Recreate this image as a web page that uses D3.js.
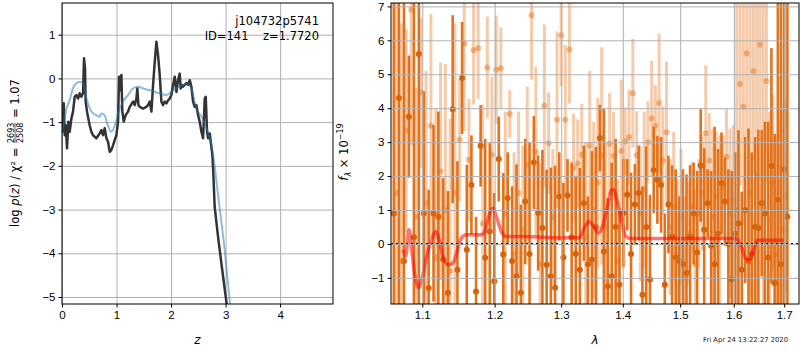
<!DOCTYPE html>
<html>
<head>
<meta charset="utf-8">
<script src="https://cdn.jsdelivr.net/npm/d3@7"></script>
<style>
body { margin: 0; background: #fff; }
svg { font-family: "DejaVu Sans", sans-serif; }
.tick text { font-size: 11.5px; fill: #000; }
.tick line { stroke: #000; }
.grid line { stroke: #b0b0b0; stroke-width: 1; }
.grid path, .grid text { display: none; }
</style>
</head>
<body>
<div id="chart"></div>
<script>
// left panel: log p(z) and smoothed curve
const pzZ = [0.00,0.007,0.031,0.050,0.068,0.092,0.117,0.141,0.172,0.202,0.233,0.263,0.294,0.324,0.355,0.386,0.404,0.422,0.434,0.459,0.483,0.508,0.538,0.569,0.630,0.691,0.722,0.752,0.783,0.814,0.844,0.875,0.905,0.936,0.966,0.997,1.028,1.046,1.070,1.089,1.107,1.132,1.168,1.211,1.242,1.303,1.333,1.364,1.382,1.401,1.425,1.486,1.547,1.578,1.609,1.640,1.670,1.701,1.731,1.762,1.792,1.823,1.854,1.884,1.915,1.945,1.976,2.006,2.037,2.067,2.098,2.128,2.159,2.177,2.202,2.220,2.251,2.281,2.312,2.343,2.373,2.404,2.434,2.465,2.495,2.526,2.557,2.587,2.618,2.636,2.660,2.679,2.710,2.728,2.758,2.775,2.800,2.860,2.930,3.020,3.040];
const pzLog = [-1.15,-1.22,-0.57,-1.30,-1.07,-1.60,-0.99,-1.22,-0.92,-0.76,-0.42,-0.38,-0.46,-0.34,-0.42,-0.34,0.46,0.23,-0.53,-0.76,-0.92,-1.07,-1.22,-1.30,-1.37,-1.26,-1.18,-1.30,-1.14,-1.37,-1.45,-1.68,-1.64,-1.53,-1.41,-1.30,-0.99,0.04,-0.27,0.08,-0.76,-0.99,-0.84,-0.76,-0.65,-0.53,-0.61,-0.46,-0.23,-0.61,-0.65,-0.69,-0.65,-0.61,-0.53,-0.76,-0.15,0.38,0.84,0.53,0.08,-0.53,-0.61,-0.53,-0.57,-0.50,-0.46,-0.38,-0.15,0.04,-0.31,-0.04,0.11,-0.23,-0.15,-0.19,-0.15,-0.11,-0.15,-0.04,-0.19,-0.53,-0.65,-0.61,-0.84,-0.99,-1.22,-1.37,-0.46,-0.42,-1.22,-1.37,-1.26,-1.45,-1.76,-2.17,-2.94,-3.60,-4.30,-5.16,-5.40];

const smoothZ = [0.00,0.02,0.05,0.08,0.14,0.20,0.26,0.32,0.39,0.45,0.51,0.57,0.63,0.69,0.72,0.78,0.84,0.905,0.97,1.03,1.12,1.21,1.30,1.39,1.49,1.61,1.79,1.915,2.04,2.22,2.31,2.37,2.465,2.56,2.65,2.74,2.80,2.83,2.90,2.99,3.08,3.10];
const smoothLog = [-1.25,-1.10,-0.90,-0.70,-0.50,-0.23,-0.11,-0.08,-0.11,-0.46,-0.69,-0.80,-0.84,-0.88,-0.80,-0.84,-1.07,-1.22,-1.07,-0.80,-0.53,-0.38,-0.23,-0.19,-0.23,-0.27,-0.34,-0.38,-0.27,-0.15,-0.13,-0.23,-0.69,-0.88,-1.14,-1.52,-2.00,-2.33,-3.05,-4.00,-5.16,-5.40];

const zTicks = [0, 1, 2, 3, 4];
const logTicks = [-5, -4, -3, -2, -1, 0, 1];

// right panel: 1D spectrum (two exposures) and line model
const darkWave = [1.063,1.0695,1.076,1.0825,1.089,1.0955,1.102,1.1085,1.115,1.1215,1.128,1.1345,1.141,1.1475,1.154,1.1605,1.167,1.1735,1.180,1.1865,1.193,1.1995,1.206,1.2125,1.219,1.2255,1.232,1.2385,1.245,1.2515,1.258,1.2645,1.271,1.2775,1.284,1.2905,1.297,1.3035,1.310,1.3165,1.323,1.3295,1.336,1.3425,1.349,1.3555,1.362,1.3685,1.375,1.3815,1.388,1.3945,1.401,1.4075,1.414,1.4205,1.427,1.4335,1.440,1.4465,1.453,1.4595,1.466,1.4725,1.479,1.4855,1.492,1.4985,1.505,1.5115,1.518,1.5245,1.531,1.5375,1.544,1.5505,1.557,1.5635,1.570,1.5765,1.583,1.5895,1.596,1.6025,1.609,1.6155,1.622,1.6285,1.635,1.6415,1.648,1.6545,1.661,1.6675,1.674,1.6805,1.687,1.6935,1.700,1.7065];
const darkFlux = [0.9,4.3,-0.5,3.75,0.2,5.6,0.9,-1.3,0.9,0.8,-0.46,-1.44,3.97,-0.76,4.89,-0.17,1.74,-1.4,2.89,-0.41,0.37,-1.1,2.5,-0.31,1.35,-0.5,-0.95,-1.44,1.25,-0.3,2.4,0.91,0.47,-0.61,-0.95,-1.29,1.4,-0.4,1.43,0.2,-0.29,-0.76,1.2,-0.6,-0.46,0.5,3.12,-0.22,-1.25,-0.95,0.5,-1.2,0.91,1.45,-0.3,1.16,1.5,-1.5,0.5,-1.05,2.18,1.89,1.74,-1.2,1.16,0.22,-0.4,-0.5,-0.6,-0.85,0.22,0.9,-0.25,2.31,0.42,1.2,-0.05,-0.6,0.3,1.79,1.25,0.0,-1.05,0.3,0.6,-0.76,1.0,-0.5,-0.3,0.5,0.47,1.2,0.9,-0.4,2.3,-1.15,1.3,-0.6,2.2,0.8];
const darkErr = [9,9,8,1.8,8,9,3.6,2.9,2.6,3.1,2.4,3.0,2.77,3.2,1.65,2.5,1.46,2.2,1.2,3.5,2.6,2.6,1.25,2.4,1.35,2.2,3.3,2.6,1.85,3.3,1.37,1.7,2.3,2.8,3.2,3.6,1.3,2.2,1.07,2.2,2.3,3.0,1.7,2.0,3.2,2.36,0.98,4.2,2.6,3.35,2.6,2.2,1.6,1.05,2.4,1.2,1.4,3.2,2.38,2.5,1.27,1.3,1.41,2.1,1.44,2.1,2.6,1.9,2.8,2.9,2.1,1.5,2.4,1.66,2.4,1.0,2.2,4.05,2.5,1.5,1.3,2.2,3.2,2.4,2.75,2.3,2.15,3.9,3.0,2.65,2.9,2.16,2.7,4.0,3.47,4.4,9,9,9,9];

const lightWave = [1.066,1.0725,1.079,1.0855,1.092,1.0985,1.105,1.1115,1.118,1.1245,1.131,1.1375,1.144,1.1505,1.157,1.1635,1.170,1.1765,1.183,1.1895,1.196,1.2025,1.209,1.2155,1.222,1.2285,1.235,1.2415,1.248,1.2545,1.261,1.2675,1.274,1.2805,1.287,1.2935,1.300,1.3065,1.313,1.3195,1.326,1.3325,1.339,1.3455,1.352,1.3585,1.365,1.3715,1.378,1.3845,1.391,1.3975,1.404,1.4105,1.417,1.4235,1.430,1.4365,1.443,1.4495,1.456,1.4625,1.469,1.4755,1.482,1.4885,1.495,1.5015,1.508,1.5145,1.521,1.5275,1.534,1.5405,1.547,1.5535,1.560,1.5665,1.573,1.5795,1.586,1.5925,1.599,1.6055,1.612,1.6185,1.625,1.6315,1.638,1.6445,1.651,1.6575,1.664,1.6705,1.677,1.6835,1.690,1.6965,1.703];
const lightFlux = [1.5,-0.5,3.34,6.9,0.8,4.46,1.2,3.48,-0.4,2.14,1.0,-0.8,1.5,3.07,5.91,2.48,5.71,5.77,0.6,5.2,2.63,5.13,5.18,0.9,3.83,-0.3,1.5,0.4,2.33,6.74,2.72,-0.6,4.07,2.97,0.8,3.66,6.15,3.66,5.73,2.24,2.37,2.63,0.2,2.9,1.0,1.8,2.6,0.5,2.95,2.6,-0.5,2.74,3.02,3.15,4.44,2.61,0.9,1.6,3.0,3.7,3.48,4.15,2.46,3.29,0.5,1.1,-0.4,0.8,-1.0,0.3,1.1,-0.6,0.9,1.5,3.26,2.46,0.8,1.4,0.2,1.7,2.57,0.9,1.3,1.0,4.71,4.04,5.62,1.5,5.09,2.0,5.88,1.2,4.8,0.7,1.8,-0.3,1.0,0.4,1.4];
const lightErr = [8,7,3.0,4,3.8,2.2,3.9,3.3,4.4,3.2,4.3,4.5,5.0,1.8,2.6,1.8,1.6,1.5,3.5,1.5,2.3,1.6,1.2,3.0,0.7,3.0,2.4,2.5,2.3,1.9,2.5,3.0,2.4,1.5,2.0,2.6,1.5,2.2,1.6,1.6,1.3,1.5,2.8,2.2,2.6,2.5,3.2,2.5,1.5,1.3,2.4,2.1,1.0,1.4,1.6,1.3,2.0,2.3,1.2,1.7,1.2,2.05,1.6,2.08,2.0,2.2,2.3,2.0,2.4,1.5,1.3,2.2,1.6,1.7,2.0,1.4,2.6,1.9,3.0,1.5,1.4,2.5,2.2,7,3,3.5,2.5,6,2.6,6,2.5,6.5,3,3.2,2.6,3.5,3,3.5,2.8];

const modelWave = [1.0753,1.0783,1.0826,1.0861,1.0904,1.0947,1.0992,1.1058,1.1125,1.1178,1.1236,1.1280,1.1348,1.1416,1.1463,1.1532,1.1601,1.1811,1.1858,1.1929,1.1976,1.2025,1.2097,1.2170,1.2440,1.2972,1.3287,1.3367,1.3436,1.3500,1.3597,1.3663,1.3745,1.3817,1.3850,1.3893,1.3966,1.4051,1.4136,1.6029,1.6145,1.6223,1.6301,1.6385,1.6464,1.6985];
const modelFlux = [-0.17,-0.36,0.42,-0.17,-0.95,-1.29,-1.05,-0.36,0.13,0.37,0.03,-0.41,-0.61,-0.56,-0.27,0.18,0.27,0.27,0.37,0.91,1.06,0.81,0.37,0.22,0.22,0.18,0.18,0.47,0.66,0.57,0.32,0.52,1.11,1.6,1.6,1.35,0.81,0.22,0.16,0.16,-0.07,-0.41,-0.46,-0.17,0.11,0.11];

const waveTicks = [1.1, 1.2, 1.3, 1.4, 1.5, 1.6, 1.7];
const fluxTicks = [-1, 0, 1, 2, 3, 4, 5, 6, 7];

const width = 800;
const height = 350;
const L = {x0: 62, x1: 333, y0: 3, y1: 304};
const R = {x0: 391, x1: 799, y0: 3, y1: 304};

let svg = d3.select('#chart')
    .append('svg')
    .attr('width', width)
    .attr('height', height);

let defs = svg.append('defs');
defs.append('clipPath').attr('id', 'clipL').append('rect')
    .attr('x', L.x0).attr('y', L.y0).attr('width', L.x1 - L.x0).attr('height', L.y1 - L.y0);
defs.append('clipPath').attr('id', 'clipR').append('rect')
    .attr('x', R.x0).attr('y', R.y0).attr('width', R.x1 - R.x0).attr('height', R.y1 - R.y0);

// ---------- left panel ----------
let lx = d3.scaleLinear().domain([0, 4.97]).range([L.x0, L.x1]);
let ly = d3.scaleLinear().domain([-5.16, 1.725]).range([L.y1, L.y0]);

svg.append('g').attr('class', 'grid')
    .attr('transform', `translate(0, ${L.y1})`)
    .call(d3.axisBottom(lx).tickValues(zTicks).tickSize(-(L.y1 - L.y0)));
svg.append('g').attr('class', 'grid')
    .attr('transform', `translate(${L.x0}, 0)`)
    .call(d3.axisLeft(ly).tickValues(logTicks).tickSize(-(L.x1 - L.x0)));

let plotL = svg.append('g').attr('clip-path', 'url(#clipL)');

let pzLine = d3.line().x(d => lx(d[0])).y(d => ly(d[1]));

plotL.append('path')
    .datum(pzZ.map((z, i) => [z, pzLog[i]]))
    .attr('d', pzLine)
    .style('fill', 'none')
    .style('stroke', '#333')
    .style('stroke-width', 2.5)
    .style('stroke-linejoin', 'round');

plotL.append('path')
    .datum(smoothZ.map((z, i) => [z, smoothLog[i]]))
    .attr('d', pzLine.curve(d3.curveMonotoneX))
    .style('fill', 'none')
    .style('stroke', '#1f77b4')
    .style('stroke-opacity', 0.5)
    .style('stroke-width', 2);

let axL = svg.append('g')
    .attr('transform', `translate(0, ${L.y1})`)
    .call(d3.axisBottom(lx).tickValues(zTicks).tickSize(3.5).tickPadding(3).tickFormat(d3.format('d')));
let ayL = svg.append('g')
    .attr('transform', `translate(${L.x0}, 0)`)
    .call(d3.axisLeft(ly).tickValues(logTicks).tickSize(3.5).tickPadding(3).tickFormat(d3.format('d')));
axL.select('.domain').remove();
ayL.select('.domain').remove();

svg.append('rect')
    .attr('x', L.x0).attr('y', L.y0)
    .attr('width', L.x1 - L.x0).attr('height', L.y1 - L.y0)
    .style('fill', 'none').style('stroke', '#000').style('stroke-width', 1);

svg.append('text').text('j104732p5741')
    .attr('x', 319).attr('y', 25)
    .style('text-anchor', 'end').style('font-size', '11.5px');
svg.append('text').text('ID=141    z=1.7720')
    .attr('x', 319).attr('y', 40)
    .style('text-anchor', 'end').style('font-size', '11.5px')
    .style('white-space', 'pre');

svg.append('text').text('z')
    .attr('x', (L.x0 + L.x1) / 2).attr('y', 344)
    .style('text-anchor', 'middle').style('font-size', '12px').style('font-style', 'italic');

// y label with stacked fraction
let ylab = svg.append('g');
let part1 = ylab.append('text').style('font-size', '11.5px').style('white-space', 'pre');
part1.append('tspan').text('log ');
part1.append('tspan').style('font-style', 'italic').text('p');
part1.append('tspan').text('(');
part1.append('tspan').style('font-style', 'italic').text('z');
part1.append('tspan').text(') / χ² = ');
let w1 = part1.node().getComputedTextLength();
let frac = ylab.append('g').attr('transform', `translate(${w1 + 1}, 0)`);
let num = frac.append('text').text('2693').attr('y', -5.5).style('font-size', '8px');
frac.append('text').text('2508').attr('y', 3.5).style('font-size', '8px');
let wf = num.node().getComputedTextLength();
frac.append('line').attr('x1', 0).attr('x2', wf).attr('y1', -4).attr('y2', -4)
    .style('stroke', '#000').style('stroke-width', 0.6);
let part3 = ylab.append('text').text(' = 1.07')
    .attr('x', w1 + wf + 2)
    .style('font-size', '11.5px').style('white-space', 'pre');
let total = w1 + wf + 2 + part3.node().getComputedTextLength();
ylab.attr('transform', `translate(19, ${153 + total / 2}) rotate(-90)`);

// ---------- right panel ----------
let rx = d3.scaleLog().domain([1.0594, 1.7305]).range([R.x0, R.x1]);
let ry = d3.scaleLinear().domain([-1.77, 7.1]).range([R.y1, R.y0]);

let plotR = svg.append('g').attr('clip-path', 'url(#clipR)');

let dark = darkWave.map((w, i) => ({w: w, f: darkFlux[i], e: darkErr[i]}));
let light = lightWave.map((w, i) => ({w: w, f: lightFlux[i], e: lightErr[i]}));

plotR.selectAll('.darkbar').data(dark).enter().append('line')
    .attr('class', 'darkbar')
    .attr('x1', d => rx(d.w)).attr('x2', d => rx(d.w))
    .attr('y1', d => ry(d.f - d.e)).attr('y2', d => ry(d.f + d.e))
    .style('stroke', '#e2731e').style('stroke-width', 2.6);
plotR.selectAll('.darkdot').data(dark).enter().append('circle')
    .attr('class', 'darkdot')
    .attr('cx', d => rx(d.w)).attr('cy', d => ry(d.f)).attr('r', 3)
    .style('fill', '#d5620c');

plotR.selectAll('.lightbar').data(light).enter().append('line')
    .attr('class', 'lightbar')
    .attr('x1', d => rx(d.w)).attr('x2', d => rx(d.w))
    .attr('y1', d => ry(d.f - d.e)).attr('y2', d => ry(d.f + d.e))
    .style('stroke', '#e46e14').style('stroke-opacity', 0.36).style('stroke-width', 3);
plotR.selectAll('.lightdot').data(light).enter().append('circle')
    .attr('class', 'lightdot')
    .attr('cx', d => rx(d.w)).attr('cy', d => ry(d.f)).attr('r', 3)
    .style('fill', '#e46e14').style('fill-opacity', 0.45);

svg.append('g').attr('class', 'grid')
    .attr('transform', `translate(0, ${R.y1})`)
    .call(d3.axisBottom(rx).tickValues(waveTicks).tickSize(-(R.y1 - R.y0)));
svg.append('g').attr('class', 'grid')
    .attr('transform', `translate(${R.x0}, 0)`)
    .call(d3.axisLeft(ry).tickValues(fluxTicks).tickSize(-(R.x1 - R.x0)));

plotR.append('path')
    .datum(modelWave.map((w, i) => [w, modelFlux[i]]))
    .attr('d', d3.line().x(d => rx(d[0])).y(d => ry(d[1])).curve(d3.curveMonotoneX))
    .style('fill', 'none')
    .style('stroke', 'red')
    .style('stroke-opacity', 0.55)
    .style('stroke-width', 3.5)
    .style('stroke-linejoin', 'round');

plotR.append('line')
    .attr('x1', R.x0).attr('x2', R.x1)
    .attr('y1', ry(0)).attr('y2', ry(0))
    .style('stroke', '#000').style('stroke-width', 2)
    .style('stroke-dasharray', '2,3');

let axR = svg.append('g')
    .attr('transform', `translate(0, ${R.y1})`)
    .call(d3.axisBottom(rx).tickValues(waveTicks).tickSize(3.5).tickPadding(3).tickFormat(d3.format('.1f')));
let ayR = svg.append('g')
    .attr('transform', `translate(${R.x0}, 0)`)
    .call(d3.axisLeft(ry).tickValues(fluxTicks).tickSize(3.5).tickPadding(3).tickFormat(d3.format('d')));
axR.select('.domain').remove();
ayR.select('.domain').remove();

svg.append('rect')
    .attr('x', R.x0).attr('y', R.y0)
    .attr('width', R.x1 - R.x0).attr('height', R.y1 - R.y0)
    .style('fill', 'none').style('stroke', '#000').style('stroke-width', 1);

svg.append('text').text('λ')
    .attr('x', (R.x0 + R.x1) / 2).attr('y', 344)
    .style('text-anchor', 'middle').style('font-size', '12px').style('font-style', 'italic');

let flab = svg.append('text')
    .attr('transform', 'translate(348, 152) rotate(-90)')
    .style('text-anchor', 'middle').style('font-size', '11.5px');
flab.append('tspan').style('font-style', 'italic').text('f');
flab.append('tspan').attr('dy', 3).style('font-size', '8px').style('font-style', 'italic').text('λ');
flab.append('tspan').attr('dy', -3).text(' × 10');
flab.append('tspan').attr('dy', -5).style('font-size', '8px').text('−19');

svg.append('text').text('Fri Apr 24 13:22:27 2020')
    .attr('x', 788).attr('y', 342)
    .style('text-anchor', 'end').style('font-size', '6.8px').style('fill', '#222');
</script>
</body>
</html>
